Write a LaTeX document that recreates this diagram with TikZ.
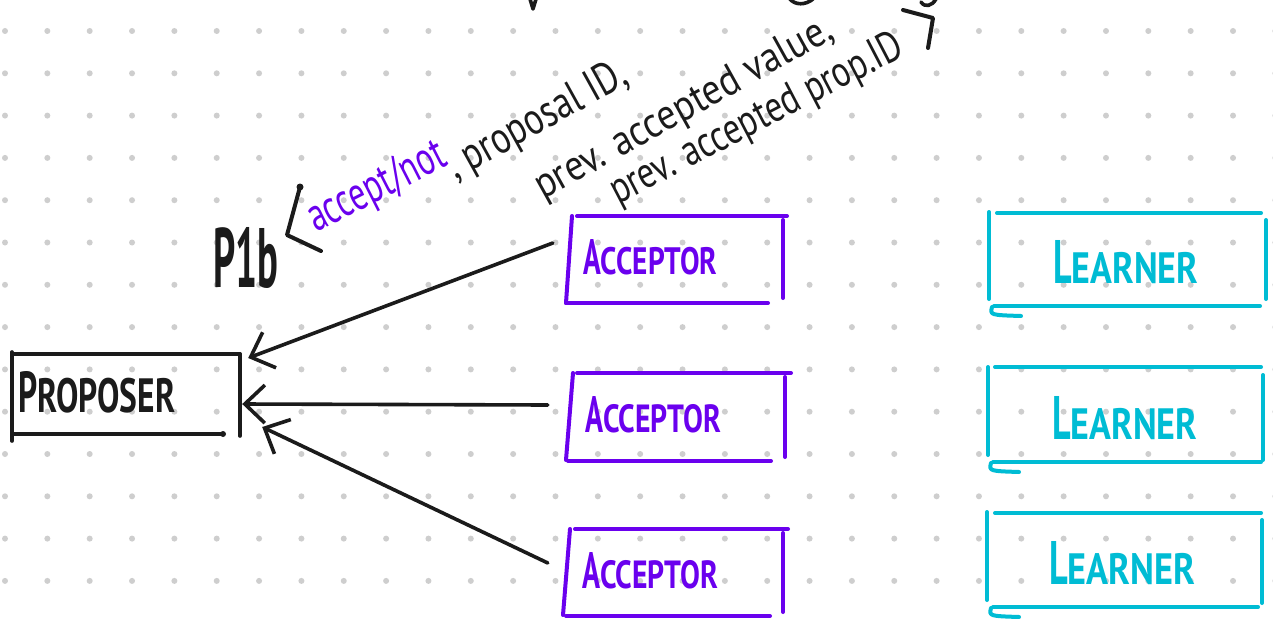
\documentclass[tikz,border=0pt]{standalone}
\usepackage{fontspec}
\usepackage{graphicx}
\setmainfont{PT Sans}
\usetikzlibrary{arrows.meta,calc}

\definecolor{ink}{HTML}{1B1B1B}
\definecolor{accviolet}{HTML}{6A00EE}
\definecolor{lrncyan}{HTML}{00BCD4}
\definecolor{griddot}{HTML}{CECECE}

\begin{document}
\begin{tikzpicture}[x=1pt,y=-1pt,
  pen/.style={line width=3.6pt,line cap=round,line join=round},
  inkpen/.style={pen,draw=ink},
  accpen/.style={pen,draw=accviolet,line width=4pt},
  lrnpen/.style={pen,draw=lrncyan,line width=4pt},
  area/.style={draw=none,inner sep=0pt,rectangle},
  word/.style={inner sep=0pt,anchor=base west},
  msg/.style={-{Straight Barb[length=20pt,width=38pt]},inkpen}
]
% paper and dotted grid
\fill[white] (0,0) rectangle (1273,618);
\useasboundingbox (0,0) rectangle (1273,618);
\foreach \i in {0,...,30}
  \foreach \j in {0,...,13}
    \fill[griddot] ({5+42.345*\i},{31+42.3*\j}) circle (3pt);

% ---------- areas of the boxes ----------
\node[area,minimum width=228pt,minimum height=80pt] (prop) at (126,394) {};
\node[area,minimum width=220pt,minimum height=87pt] (acc1) at (677,259.5) {};
\node[area,minimum width=224pt,minimum height=88pt] (acc2) at (678,417) {};
\node[area,minimum width=222pt,minimum height=87pt] (acc3) at (677,572.5) {};
\node[area,minimum width=277pt,minimum height=94pt] (lrn1) at (1127.5,259.5) {};
\node[area,minimum width=275pt,minimum height=95pt] (lrn2) at (1125.5,414.5) {};
\node[area,minimum width=275pt,minimum height=95pt] (lrn3) at (1124.5,559.5) {};

% ---------- proposer ----------
\draw[inkpen] (12,352) -- (12,441);
\draw[inkpen] (12,354) -- (240,354);
\draw[inkpen] (240,354) -- (240,436);
\draw[inkpen] (12,434) -- (223,434);
\fill[ink] (223,434) circle (3pt);
\node[word,text=ink] (proplbl) at (18,412)
  {\resizebox{157pt}{41pt}{\bfseries\scalebox{1}[1.2]{P}ROPOSER}};

% ---------- acceptors ----------
\draw[accpen] (572,216) -- (566,303);
\draw[accpen] (577,216) -- (787,216);
\draw[accpen] (783,220) -- (783,298);
\draw[accpen] (566,303) -- (768,303);
\node[word,text=accviolet] (acc1lbl) at (583,274)
  {\resizebox{134pt}{35pt}{\bfseries\scalebox{1}[1.3]{A}CCEPTOR}};

\draw[accpen] (573,373) -- (566,460);
\draw[accpen] (577,373) -- (791,373);
\draw[accpen] (785,377) -- (785,457);
\draw[accpen] (568,461) -- (771,461);
\node[word,text=accviolet] (acc2lbl) at (585,432)
  {\resizebox{136pt}{36pt}{\bfseries\scalebox{1}[1.3]{A}CCEPTOR}};

\draw[accpen] (570,529) -- (563,615);
\draw[accpen] (575,529) -- (788,529);
\draw[accpen] (783,533) -- (783,612);
\draw[accpen] (566,616) -- (770,616);
\node[word,text=accviolet] (acc3lbl) at (582,588)
  {\resizebox{136pt}{36pt}{\bfseries\scalebox{1}[1.3]{A}CCEPTOR}};

% ---------- learners ----------
\draw[lrnpen] (989,212) -- (989,299);
\draw[lrnpen] (997,213) -- (1261,213);
\draw[lrnpen] (1266,220) -- (1266,299);
\draw[lrnpen] (994,306) -- (1260,306);
\draw[lrnpen] (992,307) .. controls (990,315) .. (1021,316);
\node[word,text=lrncyan] (lrn1lbl) at (1053,283)
  {\resizebox{145pt}{43pt}{\bfseries\scalebox{1}[1.4]{L}EARNER}};

\draw[lrnpen] (988,367) -- (988,455);
\draw[lrnpen] (995,367) -- (1261,367);
\draw[lrnpen] (1263,375) -- (1263,460);
\draw[lrnpen] (993,462) -- (1261,462);
\draw[lrnpen] (991,463) .. controls (989,471) .. (1019,472);
\node[word,text=lrncyan] (lrn2lbl) at (1052,439)
  {\resizebox{145pt}{43pt}{\bfseries\scalebox{1}[1.4]{L}EARNER}};

\draw[lrnpen] (987,512) -- (987,600);
\draw[lrnpen] (995,513) -- (1261,513);
\draw[lrnpen] (1262,520) -- (1262,603);
\draw[lrnpen] (993,607) -- (1258,607);
\draw[lrnpen] (991,608) .. controls (989,616) .. (1019,617);
\node[word,text=lrncyan] (lrn3lbl) at (1049,584)
  {\resizebox{146pt}{43pt}{\bfseries\scalebox{1}[1.4]{L}EARNER}};

% ---------- promise messages back to the proposer ----------
\draw[msg] ($(acc1.west)+(-14,-16.5)$) -- ($(prop.east)+(8,-36)$);
\draw[msg] ($(acc2.west)+(-18,-12)$) -- ($(prop.east)+(2,10)$);
\draw[msg] ($(acc3.west)+(-18,-9.5)$) -- ($(prop.east)+(22,33)$);

% ---------- message contents ----------
\node[word,text=ink] (p1b) at (213,287) {\resizebox{65pt}{60pt}{\bfseries P1b}};
\draw[inkpen,line width=4pt] (300,187) -- (287,235) -- (321,251);
\fill[ink] (300,187) circle (3.5pt);
\node[word,text=accviolet,rotate=27] (acceptnot) at (316,233)
  {\resizebox{150pt}{34pt}{accept/not}};
\node[word,text=ink,rotate=29] (propid) at (455,180)
  {\resizebox{200pt}{32pt}{, proposal ID,}};
\node[word,text=ink,rotate=29] (prevval) at (543,200)
  {\resizebox{335pt}{30pt}{prev. accepted value,}};
\node[word,text=ink,rotate=27.5] (prevpid) at (618,205)
  {\resizebox{325pt}{31pt}{prev. accepted prop.ID}};
\draw[inkpen,line width=4pt] (903,10) -- (933,18) -- (928,48);

% strokes of writing running off the top edge
\draw[inkpen] (530,-1) -- (533,9) -- (536,-1);
\draw[inkpen] (789,-2) .. controls (795,6) and (806,5) .. (813,-1);
\draw[inkpen] (921,2) .. controls (925,8) and (932,6) .. (936,-1);
\end{tikzpicture}
\end{document}
